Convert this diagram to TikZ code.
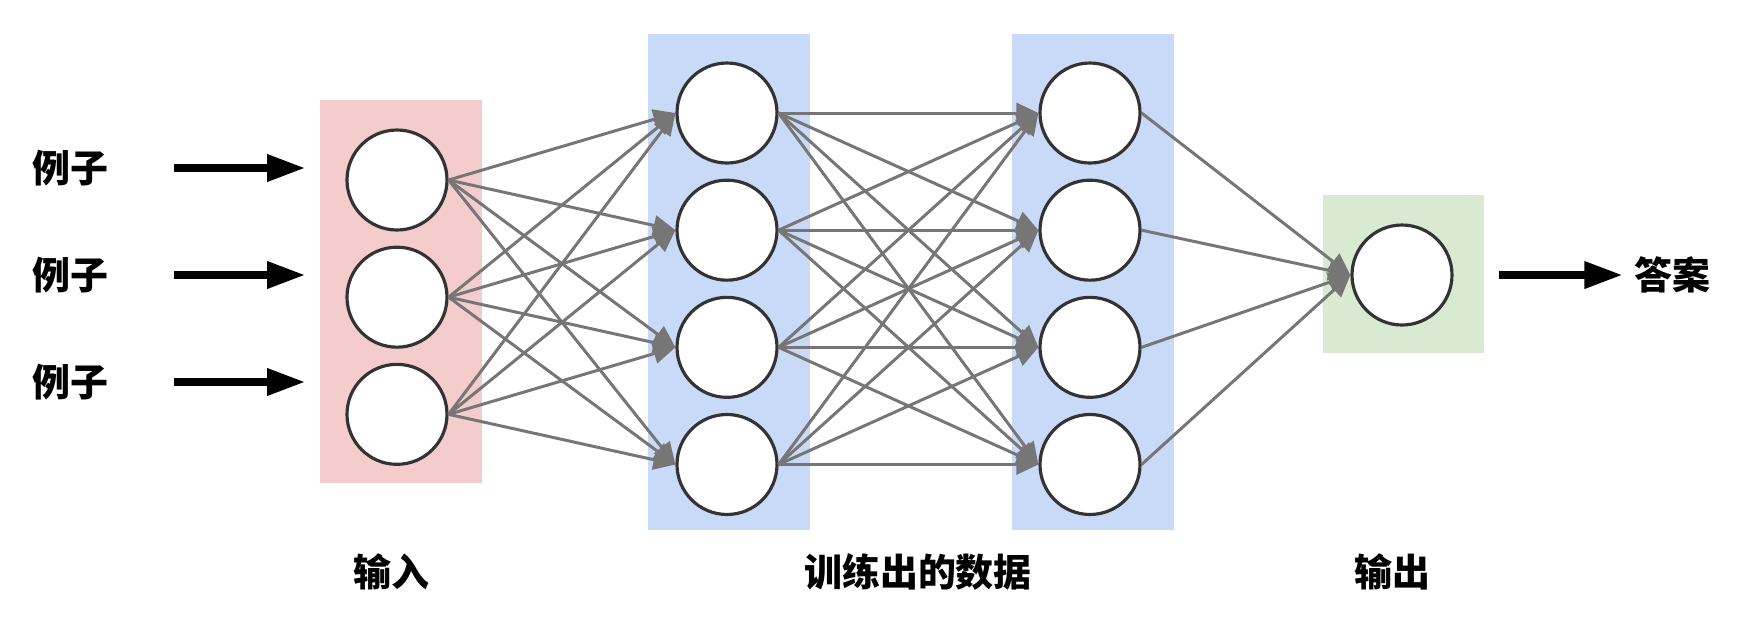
\documentclass[tikz,border=0pt]{standalone}
\usepackage{fontspec}
\newfontfamily\cjk{Noto Sans CJK SC}
\usepackage{tikz}
\usetikzlibrary{arrows.meta,positioning}
\definecolor{edgegray}{HTML}{767676}
\definecolor{ringgray}{HTML}{333333}
\definecolor{inpink}{HTML}{F4CCCC}
\definecolor{hidblue}{HTML}{C9DAF8}
\definecolor{outgreen}{HTML}{D9EAD3}
\tikzstyle{neuron}=[circle,line width=0.9pt,draw=ringgray,fill=white,
minimum size=10mm,inner sep=0pt]
\tikzstyle{conn}=[draw,line width=0.85pt,draw=edgegray,
-{Triangle[length=2.2mm,width=2mm]}]
\tikzstyle{bigarrow}=[line width=2pt,-{Triangle[length=3.8mm,width=2.6mm]}]
\tikzstyle{word}=[inner sep=0pt,font=\cjk\bfseries\fontsize{10.8pt}{13pt}\selectfont]

\begin{document}
\begin{tikzpicture}[node distance=1.4mm, every edge/.style={conn}]
            \useasboundingbox (0,0) rectangle (17.46,6.28);

            % LAYER BACKGROUNDS

            \fill[inpink] (3.20,1.45) rectangle (4.82,5.28);
            \fill[hidblue] (6.48,0.98) rectangle (8.10,5.94);
            \fill[hidblue] (10.12,0.98) rectangle (11.74,5.94);
            \fill[outgreen] (13.23,2.75) rectangle (14.84,4.33);

            % INPUT PART

            \node[neuron] at (3.97,4.48) (in1) {};
            \node[neuron, below=of in1] (in2) {};
            \node[neuron, below=of in2] (in3) {};

            \node[word] at (0.70,4.60) (ex1) {例子};
            \node[word] at (0.70,3.53) (ex2) {例子};
            \node[word] at (0.70,2.46) (ex3) {例子};
            \coordinate (tip1) at (3.05,4.60);
            \coordinate (tip2) at (3.05,3.53);
            \coordinate (tip3) at (3.05,2.46);

            \draw[bigarrow, shorten <=6.5mm] (ex1.east) -- (tip1);
            \draw[bigarrow, shorten <=6.5mm] (ex2.east) -- (tip2);
            \draw[bigarrow, shorten <=6.5mm] (ex3.east) -- (tip3);

            % HIDDEN PART

            \node[neuron] at (7.27,5.15) (ha1) {};
            \node[neuron, below=of ha1] (ha2) {};
            \node[neuron, below=of ha2] (ha3) {};
            \node[neuron, below=of ha3] (ha4) {};

            \node[neuron] at (10.90,5.15) (hb1) {};
            \node[neuron, below=of hb1] (hb2) {};
            \node[neuron, below=of hb2] (hb3) {};
            \node[neuron, below=of hb3] (hb4) {};

            % OUTPUT PART

            \node[neuron] at (14.02,3.53) (out) {};
            \node[word] at (16.72,3.53) (ans) {答案};

            \draw[bigarrow, shorten <=4.5mm, shorten >=1.1mm] (out.east) -- (ans.west);

            % Connections of Layers

            \path (in1.east) edge (ha1.west) edge (ha2.west) edge (ha3.west) edge (ha4.west);
            \path (in2.east) edge (ha1.west) edge (ha2.west) edge (ha3.west) edge (ha4.west);
            \path (in3.east) edge (ha1.west) edge (ha2.west) edge (ha3.west) edge (ha4.west);

            \path (ha1.east) edge (hb1.west) edge (hb2.west) edge (hb3.west) edge (hb4.west);
            \path (ha2.east) edge (hb1.west) edge (hb2.west) edge (hb3.west) edge (hb4.west);
            \path (ha3.east) edge (hb1.west) edge (hb2.west) edge (hb3.west) edge (hb4.west);
            \path (ha4.east) edge (hb1.west) edge (hb2.west) edge (hb3.west) edge (hb4.west);

            \path (hb1.east) edge (out.west);
            \path (hb2.east) edge (out.west);
            \path (hb3.east) edge (out.west);
            \path (hb4.east) edge (out.west);

            % Layer names

            \node[word] at (3.91,0.56) (lin) {输入};
            \node[word] at (9.18,0.56) (lhid) {训练出的数据};
            \node[word] at (13.92,0.56) (lout) {输出};

\end{tikzpicture}
\end{document}
